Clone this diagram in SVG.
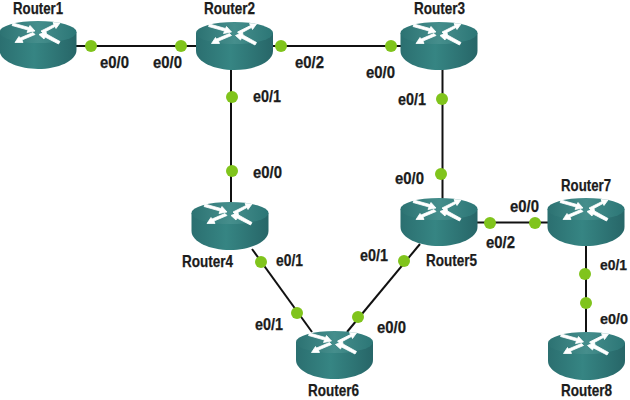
<svg xmlns="http://www.w3.org/2000/svg" width="630" height="400" viewBox="0 0 630 400">
<style>
text{font-family:"Liberation Sans",Arial,sans-serif;font-weight:700;font-size:16.500px;fill:#1c1c1c;stroke:#1c1c1c;stroke-width:.25}
text.e{font-size:15px}
.c line{stroke:#111;stroke-width:2}
.c circle{fill:#80c41c}
.h{fill:#fff;stroke:#fff;stroke-width:.8;stroke-linejoin:round}
</style>
<defs>
<linearGradient id="side" x1="0" x2="1" y1="0" y2="0"><stop offset="0" stop-color="#2b6f70"/><stop offset=".45" stop-color="#368583"/><stop offset="1" stop-color="#276668"/></linearGradient>
<linearGradient id="top" x1="0" x2="1" y1="0" y2="0"><stop offset="0" stop-color="#2c7272"/><stop offset=".5" stop-color="#458e8c"/><stop offset="1" stop-color="#2c7676"/></linearGradient>
<g id="r">
<path d="M-38.500 0V18C-38.500 29 -20 37 0 37S38.500 29 38.500 18V0Z" fill="url(#side)"/>
<ellipse rx="38.500" ry="11" fill="url(#top)"/>
<g class="h">
<path d="M-26-6.500L-25-9L-9-4.500L-8-6.500L-3-1L-11 0.500L-10-2Z"/>
<path d="M3-1L16-7.500L15-9.500L22-9L18-3.500L17-5.500L5 1Z"/>
<path d="M-3 2.500L-16 8L-15 10.500L-23 10.500L-19 4.500L-18 6L-5 0.500Z"/>
<path d="M1 2.500L8-0.500L8.500 2L22 9.500L20.500 12L7 5L6 7Z"/>
</g>
</g>
</defs>
<g class="c" id="connectors">
<line x1="76" y1="46" x2="196" y2="46"/>
<line x1="272" y1="46" x2="401" y2="46"/>
<line x1="231" y1="65" x2="231" y2="203"/>
<line x1="442.500" y1="65" x2="442.500" y2="199"/>
<line x1="252" y1="249" x2="312" y2="332"/>
<line x1="420" y1="244" x2="347" y2="332"/>
<line x1="477" y1="222.500" x2="548" y2="222.500"/>
<line x1="586" y1="245" x2="586" y2="335"/>
<circle cx="91" cy="46" r="6"/><circle cx="181" cy="46" r="6"/>
<circle cx="281" cy="46" r="6"/><circle cx="391" cy="46" r="6"/>
<circle cx="232" cy="97" r="6"/><circle cx="232" cy="171" r="6"/>
<circle cx="442" cy="99" r="6"/><circle cx="441" cy="174" r="6"/>
<circle cx="261" cy="262" r="6"/><circle cx="297" cy="313" r="6"/>
<circle cx="404" cy="261" r="6"/><circle cx="358" cy="317" r="6"/>
<circle cx="490" cy="223" r="6"/><circle cx="535" cy="223" r="6"/>
<circle cx="585" cy="274" r="6"/><circle cx="586" cy="303" r="6"/>
</g>
<g id="router1"><use href="#r" x="38" y="32"/><text textLength="50" lengthAdjust="spacingAndGlyphs" x="13" y="14">Router1</text></g>
<g id="router2"><use href="#r" x="234.500" y="33"/><text textLength="51" lengthAdjust="spacingAndGlyphs" x="204" y="14">Router2</text></g>
<g id="router3"><use href="#r" x="439" y="33"/><text textLength="51" lengthAdjust="spacingAndGlyphs" x="414" y="14">Router3</text></g>
<g id="router4"><use href="#r" x="230" y="213"/><text textLength="51" lengthAdjust="spacingAndGlyphs" x="182" y="267">Router4</text></g>
<g id="router5"><use href="#r" x="439" y="209"/><text textLength="51" lengthAdjust="spacingAndGlyphs" x="426" y="266">Router5</text></g>
<g id="router6"><use href="#r" x="334.500" y="342"/><text textLength="51" lengthAdjust="spacingAndGlyphs" x="308" y="396">Router6</text></g>
<g id="router7"><use href="#r" x="586" y="209"/><text textLength="50" lengthAdjust="spacingAndGlyphs" x="561" y="191">Router7</text></g>
<g id="router8"><use href="#r" x="586.500" y="343"/><text textLength="51" lengthAdjust="spacingAndGlyphs" x="561" y="396">Router8</text></g>
<g id="labels">
<text textLength="29" lengthAdjust="spacingAndGlyphs" x="100" y="68">e0/0</text><text textLength="29" lengthAdjust="spacingAndGlyphs" x="153" y="68">e0/0</text>
<text textLength="29" lengthAdjust="spacingAndGlyphs" x="295" y="68">e0/2</text><text textLength="29" lengthAdjust="spacingAndGlyphs" x="366" y="78">e0/0</text>
<text textLength="28" lengthAdjust="spacingAndGlyphs" x="253" y="102">e0/1</text><text textLength="29" lengthAdjust="spacingAndGlyphs" x="253" y="178">e0/0</text>
<text textLength="28" lengthAdjust="spacingAndGlyphs" x="398" y="105">e0/1</text><text textLength="29" lengthAdjust="spacingAndGlyphs" x="395" y="184">e0/0</text>
<text textLength="27" lengthAdjust="spacingAndGlyphs" x="276" y="266">e0/1</text><text textLength="28" lengthAdjust="spacingAndGlyphs" x="255" y="330">e0/1</text>
<text textLength="28" lengthAdjust="spacingAndGlyphs" x="360" y="261">e0/1</text><text textLength="29" lengthAdjust="spacingAndGlyphs" x="377" y="333">e0/0</text>
<text textLength="29" lengthAdjust="spacingAndGlyphs" x="510" y="212">e0/0</text><text textLength="29" lengthAdjust="spacingAndGlyphs" x="486" y="248">e0/2</text>
<text class="e" textLength="27" lengthAdjust="spacingAndGlyphs" x="600" y="270">e0/1</text><text class="e" textLength="28" lengthAdjust="spacingAndGlyphs" x="600" y="324">e0/0</text>
</g>
</svg>
